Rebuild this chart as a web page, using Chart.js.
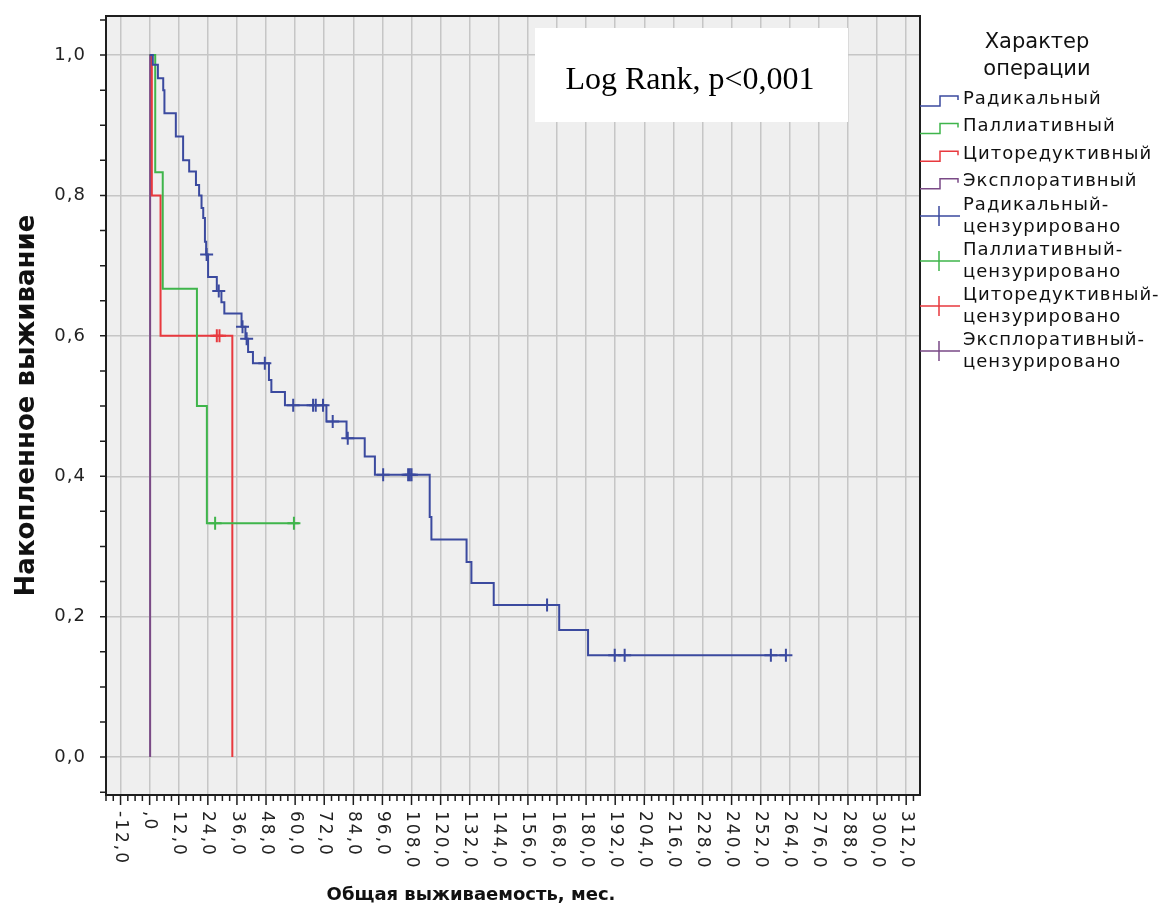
<!DOCTYPE html>
<html>
<head>
<meta charset="utf-8">
<script src="https://cdn.jsdelivr.net/npm/chart.js@4/dist/chart.umd.min.js"></script>
<style>
  body { margin: 0; background: #fff; }
  canvas { display: block; }
</style>
</head>
<body>
<canvas id="km-chart" width="1174" height="919"></canvas>
<script>
// Kaplan-Meier curves.
// *Times = month of each drop, *Survival = level right after that drop.
const groupNames = ['Радикальный', 'Паллиативный', 'Циторедуктивный', 'Эксплоративный'];
const groupColors = ['#3b4a9f', '#3fb54b', '#e8393e', '#7a4a86'];

const radicalTimes = [0, 1.3, 3.4, 5.6, 6.1, 10.8, 13.8, 16.3, 19.1, 20.4, 21.4, 22.1, 22.8, 23.3, 24.1,
  27.7, 29.6, 30.8, 37.9, 39.5, 40.6, 42.6, 49.2, 50.2, 55.8, 72.9, 81.2, 88.7, 92.9, 115.5, 116.2,
  130.7, 132.7, 141.9, 168.9, 180.8, 262.4];
const radicalSurvival = [1, 0.986, 0.967, 0.95, 0.917, 0.884, 0.85, 0.834, 0.815, 0.8, 0.782, 0.768, 0.734, 0.716, 0.684,
  0.664, 0.648, 0.632, 0.613, 0.596, 0.577, 0.561, 0.537, 0.52, 0.501, 0.478, 0.454, 0.428, 0.402, 0.342, 0.31,
  0.278, 0.248, 0.2165, 0.181, 0.145, 0.145];
const radicalCensTimes = [23.5, 28.5, 38.3, 40.0, 47.5, 59.2, 67.4, 68.5, 71.5, 75.5, 81.7, 96.3, 106.6, 107.3, 108.0,
  163.9, 191.8, 195.9, 256.2, 262.4];
const radicalCensSurvival = [0.716, 0.664, 0.613, 0.596, 0.561, 0.501, 0.501, 0.501, 0.501, 0.478, 0.454, 0.402, 0.402, 0.402, 0.402,
  0.2165, 0.145, 0.145, 0.145, 0.145];

const palliativeTimes = [0, 2.3, 5.4, 19.5, 23.6, 61.5];
const palliativeSurvival = [1, 0.833, 0.667, 0.5, 0.333, 0.333];
const palliativeCensTimes = [27.0, 59.5];
const palliativeCensSurvival = [0.333, 0.333];

const cytoTimes = [0, 0.9, 4.5, 34.1];
const cytoSurvival = [1, 0.8, 0.6, 0];
const cytoCensTimes = [27.7, 28.8];
const cytoCensSurvival = [0.6, 0.6];

const exploreTimes = [0, 0.2];
const exploreSurvival = [1, 0];
const exploreCensTimes = [];
const exploreCensSurvival = [];

const xTickStep = 12;
const yTickStep = 0.2;
const axisFont = 'DejaVu Sans';

function points(times, values) {
  return times.map((t, i) => ({ x: t, y: values[i] }));
}

const curves = [
  points(radicalTimes, radicalSurvival),
  points(palliativeTimes, palliativeSurvival),
  points(cytoTimes, cytoSurvival),
  points(exploreTimes, exploreSurvival)
];
const censored = [
  points(radicalCensTimes, radicalCensSurvival),
  points(palliativeCensTimes, palliativeCensSurvival),
  points(cytoCensTimes, cytoCensSurvival),
  points(exploreCensTimes, exploreCensSurvival)
];

const datasets = [];
curves.forEach((data, i) => {
  datasets.push({
    type: 'line',
    label: groupNames[i],
    data: data,
    stepped: 'before',
    borderColor: groupColors[i],
    borderWidth: 2,
    pointRadius: 0,
    fill: false
  });
});
censored.forEach((data, i) => {
  datasets.push({
    type: 'scatter',
    label: groupNames[i] + '-',
    data: data,
    pointStyle: 'cross',
    pointRadius: 6.5,
    borderColor: groupColors[i],
    borderWidth: 2
  });
});

// SPSS writes ",0" under the time axis but "0,0" on the survival axis
function xLabel(v) {
  if (v === 0) return ',0';
  return v.toFixed(1).replace('.', ',');
}
function yLabel(v) {
  return v.toFixed(1).replace('.', ',');
}

// SPSS-like frame: grey plot area, tick marks, rotated labels, note box, legend
const spssFrame = {
  id: 'spssFrame',
  beforeDraw(chart) {
    const { ctx, chartArea: a } = chart;
    ctx.save();
    ctx.fillStyle = '#ffffff';
    ctx.fillRect(0, 0, chart.width, chart.height);
    ctx.fillStyle = '#efefef';
    ctx.fillRect(a.left, a.top, a.right - a.left, a.bottom - a.top);
    ctx.restore();
  },
  beforeDatasetsDraw(chart) {
    const ctx = chart.ctx;
    ctx.save();
    ctx.fillStyle = '#ffffff';
    ctx.fillRect(535, 28, 313, 94);
    ctx.fillStyle = '#000000';
    ctx.font = '32px "Liberation Serif"';
    ctx.textAlign = 'center';
    ctx.textBaseline = 'middle';
    ctx.fillText('Log Rank, p<0,001', 690, 81);
    ctx.restore();
  },
  afterDraw(chart) {
    const { ctx, chartArea: a } = chart;
    const xs = chart.scales.x;
    const ys = chart.scales.y;
    ctx.save();

    ctx.strokeStyle = '#1e1e1e';
    ctx.lineWidth = 2;
    ctx.strokeRect(a.left, a.top, a.right - a.left, a.bottom - a.top);

    // tick marks
    ctx.lineWidth = 1.5;
    ctx.beginPath();
    for (let v = xs.min; v <= xs.max; v += xTickStep / 4) {
      const px = xs.getPixelForValue(v);
      const len = Math.round(v) % xTickStep === 0 ? 10 : 6;
      ctx.moveTo(px, a.bottom);
      ctx.lineTo(px, a.bottom + len);
    }
    for (let k = -1; k <= 21; k++) {
      const py = ys.getPixelForValue(k * yTickStep / 4);
      ctx.moveTo(a.left - 6, py);
      ctx.lineTo(a.left, py);
    }
    ctx.stroke();

    // tick labels
    ctx.fillStyle = '#222222';
    ctx.letterSpacing = '2px';
    ctx.font = '17px "' + axisFont + '"';
    ctx.textBaseline = 'middle';
    xs.ticks.forEach(t => {
      ctx.save();
      ctx.translate(xs.getPixelForValue(t.value), a.bottom + 16);
      ctx.rotate(Math.PI / 2);
      ctx.textAlign = 'left';
      ctx.fillText(xLabel(t.value), 0, 0);
      ctx.restore();
    });
    ctx.letterSpacing = '1px';
    ctx.font = '18px "' + axisFont + '"';
    ctx.textAlign = 'right';
    ys.ticks.forEach(t => {
      ctx.fillText(yLabel(t.value), a.left - 20, ys.getPixelForValue(t.value));
    });

    // time axis title, SPSS puts it left of the plot centre
    ctx.letterSpacing = '0px';
    ctx.fillStyle = '#111111';
    ctx.font = 'bold 18px "' + axisFont + '"';
    ctx.textAlign = 'center';
    ctx.fillText('Общая выживаемость, мес.', 471, 895);

    // legend
    const lx = a.right;
    ctx.font = '21px "' + axisFont + '"';
    ctx.fillText('Характер', 1037, 43);
    ctx.fillText('операции', 1037, 70);

    ctx.font = '18px "' + axisFont + '"';
    ctx.letterSpacing = '1px';
    ctx.textAlign = 'left';
    ctx.lineWidth = 1.5;
    const lines = chart.data.datasets.filter(d => d.type === 'line');
    const marks = chart.data.datasets.filter(d => d.type === 'scatter');
    lines.forEach((d, i) => {
      const cy = 99 + i * 27.6;
      ctx.strokeStyle = d.borderColor;
      ctx.beginPath();
      ctx.moveTo(lx, cy + 7);
      ctx.lineTo(lx + 20, cy + 7);
      ctx.lineTo(lx + 20, cy - 3);
      ctx.lineTo(lx + 38, cy - 3);
      ctx.lineTo(lx + 38, cy + 1);
      ctx.stroke();
      ctx.fillText(d.label, lx + 43, cy);
    });
    marks.forEach((d, i) => {
      const cy = 205 + i * 45;
      ctx.strokeStyle = d.borderColor;
      ctx.beginPath();
      ctx.moveTo(lx, cy + 11);
      ctx.lineTo(lx + 40, cy + 11);
      ctx.moveTo(lx + 19, cy + 1);
      ctx.lineTo(lx + 19, cy + 21);
      ctx.stroke();
      ctx.fillText(d.label, lx + 43, cy);
      ctx.fillText('цензурировано', lx + 43, cy + 22);
    });
    ctx.restore();
  }
};

const gridColor = '#c6c6c6';

new Chart(document.getElementById('km-chart'), {
  data: { datasets: datasets },
  plugins: [spssFrame],
  options: {
    responsive: false,
    animation: false,
    devicePixelRatio: 1,
    layout: { padding: { top: 16, right: 254, left: 0, bottom: 0 } },
    plugins: {
      legend: { display: false },
      tooltip: { enabled: false }
    },
    scales: {
      x: {
        type: 'linear',
        position: 'bottom',
        min: -18,
        max: 317.7,
        ticks: { stepSize: xTickStep, includeBounds: false, display: false },
        grid: { color: gridColor, lineWidth: 1.5, drawTicks: false },
        border: { display: false },
        afterFit: s => { s.height = 124; }
      },
      y: {
        type: 'linear',
        min: -0.054,
        max: 1.0556,
        ticks: { stepSize: yTickStep, includeBounds: false, display: false },
        grid: { color: gridColor, lineWidth: 1.5, drawTicks: false },
        border: { display: false },
        afterFit: s => { s.width = 106; },
        title: {
          display: true,
          text: 'Накопленное выживание',
          color: '#111111',
          font: { family: axisFont, weight: 'bold', size: 26 },
          padding: { top: 12, bottom: 0 }
        }
      }
    }
  }
});
</script>
</body>
</html>
